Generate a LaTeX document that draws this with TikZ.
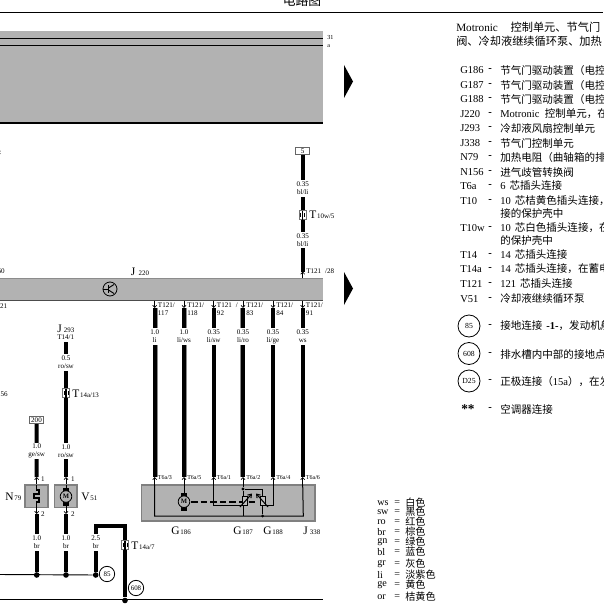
\documentclass[tikz,border=0pt]{standalone}
\usepackage{fontspec}
\setmainfont{Liberation Serif}
\newfontfamily\cjk{Noto Sans CJK SC}
\usetikzlibrary{arrows.meta,calc}
\definecolor{bandgray}{HTML}{B2B2B2}
\newcommand\biglab[2]{{\fontsize{8.6pt}{9pt}\selectfont #1}\kern0.6pt{\fontsize{5.2pt}{6pt}\selectfont #2}}
\tikzset{
  wire/.style={line width=3pt,black},
  stripe/.style={line width=0.9pt,black!45},
  thin wire/.style={line width=0.75pt,black},
  hair/.style={line width=0.7pt,black},
  tipline/.style={line width=0.5pt,black,-{Straight Barb[length=1.7pt,width=3pt]}},
  wlabel/.style={fill=white,inner sep=0pt,minimum height=12.5pt,minimum width=4pt,align=center,font=\fontsize{5.3pt}{6pt}\selectfont},
  small/.style={inner sep=0pt,font=\fontsize{5.3pt}{6pt}\selectfont,align=left},
  tiny/.style={inner sep=0pt,font=\fontsize{4.6pt}{6pt}\selectfont,anchor=west},
  big/.style={inner sep=0pt,anchor=base west},
  tagbox/.style={draw=black!60,fill=white,line width=0.6pt,inner sep=0pt,minimum width=10.5pt,minimum height=5.6pt,font=\fontsize{5.3pt}{6pt}\selectfont},
  groundc/.style={circle,draw=black,line width=0.6pt,fill=white,inner sep=0pt,minimum size=11.5pt,font=\fontsize{5.2pt}{6pt}\selectfont},
  keyc/.style={circle,draw=black,line width=0.6pt,fill=white,inner sep=0pt,minimum size=16.5pt,font=\fontsize{5.8pt}{6pt}\selectfont},
  dotn/.style={circle,fill=black,inner sep=0pt,minimum size=4.2pt},
  jdot/.style={circle,fill=black,inner sep=0pt,minimum size=2.3pt},
  grayblock/.style={fill=bandgray,draw=black!50,line width=0.9pt},
  listt/.style={inner sep=0pt,anchor=west,font=\fontsize{7.9pt}{9pt}\selectfont},
  legt/.style={inner sep=0pt,anchor=west,font=\fontsize{7.6pt}{9pt}\selectfont},
  connpic/.pic={
    \draw[draw=black!55,fill=white,line width=0.5pt] (-3.5,-4.5) rectangle (3.5,4.5);
    \draw[line width=1.1pt] (0,-4.5) -- (0,4.5);
    \draw[line width=0.4pt] (-2,-2) -- (-2,2) (2,-2) -- (2,2);
  },
  motorpic/.pic={
    \fill[black] (-3,-9) rectangle (3,-5);
    \fill[black] (-3,5.5) rectangle (3,9.5);
    \draw[fill=bandgray,line width=0.6pt] (0,0) circle (5.8);
    \node[inner sep=0pt,font=\fontsize{5pt}{6pt}\bfseries\selectfont] (-mm) at (0,0) {M};
  },
  potpic/.pic={
    \draw[fill=black!25,line width=0.6pt] (-2.5,-4.5) rectangle (2.5,4.5);
  },
}
\begin{document}
\begin{tikzpicture}[x=0.75pt,y=-0.75pt]
\useasboundingbox (0,0) rectangle (603,606);
\clip (0,0) rectangle (603,606);
\fill[white] (0,0) rectangle (603,606);

% top rule and title
\coordinate (ruleL) at (0,12.5); \coordinate (ruleR) at (603,12.5);
\draw[line width=0.8pt] (ruleL) -- (ruleR);
\node[inner sep=0pt,font=\fontsize{9.6pt}{10pt}\cjk\selectfont] (title) at (302,1) {电路图};

% upper gray band
\fill[bandgray] (0,31) rectangle (323,123);
\coordinate (u1L) at (0,38.5); \coordinate (u1R) at (323,38.5);
\coordinate (u2L) at (0,45.5); \coordinate (u2R) at (323,45.5);
\coordinate (u3L) at (0,123); \coordinate (u3R) at (323,123);
\draw[hair] (u1L) -- (u1R);
\draw[hair] (u2L) -- (u2R);
\draw[line width=0.8pt] (u3L) -- (u3R);
\node[tiny] (l31) at (327,38) {31};
\node[tiny] (la) at (327,46) {a};
\fill (344,65) -- (353,81.5) -- (344,98) -- cycle;
\fill (344,272) -- (353,288.5) -- (344,305) -- cycle;

% J220 band
\fill[bandgray] (0,278) rectangle (323,300.5);
\draw[black!45,line width=0.7pt] (0,278) -- (323,278);
\draw[black!70,line width=0.7pt] (0,300.5) -- (323,300.5);
\node[big] (j220) at (130.5,275) {\biglab{J}{\kern2pt 220}};
\node[circle,draw,line width=0.6pt,inner sep=0pt,minimum size=10.5pt] (star) at (110,289) {};
\draw[line width=0.5pt] (103,289) -- (108.5,289);
\draw[line width=1.3pt] (108.5,285) -- (108.5,293);
\draw[line width=0.7pt] (108.5,288) -- (114,284.5) (108.5,290) -- (114,293.5);

% fragments at left edge
\node[small,anchor=east] (f60) at (5,271) {/60};
\node[small,anchor=east] (f21) at (7.5,306.5) {/21};
\node[small,anchor=east] (f56) at (8,394) {56};
\node[small,anchor=east] (f1) at (1.5,153) {:};

% six lines from J220 to J338
\draw[grayblock] (141.7,485) rectangle (315,521);
\foreach \n/\x/\off/\ta/\tb/\sa/\sb/\pin in {
  1/154.7/2.4/{T121/}/117/1.0/li/3,
  2/184/2.4/{T121/}/118/1.0/{li/ws}/5,
  3/213.7/0/{T121\kern3pt/}/92/0.35/{li/sw}/1,
  4/243/-2.4/{T121/}/83/0.35/{li/ro}/2,
  5/273/0/{T121/}/84/0.35/{li/ge}/4,
  6/302.7/0/{T121/}/91/0.35/ws/6}{
  \coordinate (t\n) at (\x,300.5);
  \coordinate (p\n) at (\x,308);
  \coordinate (q\n) at (\x,477);
  \coordinate (b\n) at (\x,485);
  \draw[stripe] ($(p\n)+(\off,0)$) -- ($(q\n)+(\off,0)$);
  \draw[wire] (p\n) -- (q\n);
  \draw[tipline] (t\n) -- (p\n);
  \draw[tipline] (b\n) -- (\x,477);
  \node[wlabel] (w\n) at (\x,336.5) {\sa\\\sb};
  \node[small,anchor=north west] (tt\n) at (\x+3,302.5) {\ta\\[0.3pt]\tb};
  \node[tiny,anchor=west,font=\fontsize{4.5pt}{6pt}\selectfont] (ts\n) at (\x+3,478) {T6a/\pin};
}

% T121/28 branch with T10w/5
\node[tagbox] (box5) at (302.7,151) {5};
\coordinate (c28) at (302.7,271.5);
\coordinate (e28) at (302.7,278);
\draw[wire] (box5) -- (c28);
\draw[tipline] (e28) -- (c28);
\node[wlabel] (w7) at (302.7,188.5) {0.35\\bl/li};
\node[wlabel] (w8) at (302.7,240) {0.35\\bl/li};
\pic (cn1) at (302.7,215) {connpic};
\node[big] (t10w) at (309,218.5) {\biglab{T}{10w/5}};
\node[small,anchor=west] (t28) at (306,271) {T121\kern3pt/28};

% G186..J338 internals
\coordinate (j1) at (154.7,516);
\coordinate (j6) at (303.3,516);
\draw[thin wire] (b1) -- (j1) -- (j6) -- (b6);
\draw[thin wire] (b2) -- (184,494);
\coordinate (m3) at (213.7,505);
\coordinate (pa) at (245,505);
\draw[thin wire] (b3) -- (m3) -- (pa);
\coordinate (m5) at (273,505);
\coordinate (pb) at (265,505);
\draw[thin wire] (b5) -- (m5) -- (pb);
\node[jdot] (dA) at (243,489) {};
\node[jdot] (dB) at (262.7,516) {};
\draw[thin wire] (b4) -- (dA);
\draw[thin wire] (dA) -- (243,516);
\draw[thin wire] (dA) -- (262.7,489) -- (dB);
\draw[line width=0.9pt,dash pattern=on 5pt off 2.2pt] (191,502) -- (258,502);
\pic at (184,501.7) {motorpic};
\pic at (245,501) {potpic};
\pic at (262.5,501) {potpic};
\draw[line width=0.8pt,-{Straight Barb[length=2.4pt,width=3.4pt]}] (240,507) -- (252,493.5);
\draw[line width=0.8pt,-{Straight Barb[length=2.4pt,width=3.4pt]}] (268,507) -- (256,493.5);
\node[big] (g186) at (171,534) {\biglab{G}{186}};
\node[big] (g187) at (233,534) {\biglab{G}{187}};
\node[big] (g188) at (263,534) {\biglab{G}{188}};
\node[big] (j338) at (303,534) {\biglab{J}{\kern1pt 338}};

% V51 branch with J293
\node[big] (j293) at (57,332) {\biglab{J}{\kern1pt 293}};
\node[small,anchor=west] (t141) at (57,337.5) {T14/1};
\coordinate (v1) at (66,342);
\coordinate (v2) at (66,477);
\coordinate (v3) at (66,485);
\draw[wire] (v1) -- (v2);
\draw[tipline] (v3) -- (v2);
\node[wlabel] (w9) at (66,362.5) {0.5\\ro/sw};
\node[wlabel] (w10) at (66,451) {1.0\\ro/sw};
\pic at (66,393) {connpic};
\node[big] (t1413) at (72,397) {\biglab{T}{14a/13}};
\draw[grayblock] (54.7,485) rectangle (77,507.7);
\draw[thin wire] (v3) -- (66,488);
\draw[thin wire] (66,504) -- (66,508);
\pic at (66,496.5) {motorpic};
\node[big] (v51) at (81,500) {\biglab{V}{51}};
\node[small,anchor=center] (p1b) at (73,479) {1};
\node[small,anchor=center] (p2b) at (73,514) {2};
\coordinate (v4) at (66,507.7);
\coordinate (v5) at (66,514);
\node[dotn] (dv) at (66,575) {};
\draw[tipline] (v4) -- (v5);
\draw[wire] (v5) -- (dv);
\node[wlabel] (w11) at (66,542.5) {1.0\\br};

% N79 branch
\node[tagbox] (box200) at (36.5,420) {200};
\coordinate (n2) at (36.7,477);
\coordinate (n3) at (36.7,485);
\draw[wire] (box200) -- (n2);
\draw[tipline] (n3) -- (n2);
\node[wlabel] (w12) at (36.7,451) {1.0\\ge/sw};
\draw[grayblock] (25,485) rectangle (48,507.7);
\draw[line width=0.8pt] (n3) -- (36.7,490) -- (39,490) -- (39,494) -- (34,494) -- (34,498) -- (39,498) -- (39,502) -- (36.7,502) -- (36.7,507.7);
\node[big] (n79) at (5,500) {\biglab{N}{79}};
\node[small,anchor=center] (p1a) at (43,479) {1};
\node[small,anchor=center] (p2a) at (43,514) {2};
\coordinate (n4) at (36.7,507.7);
\coordinate (n5) at (36.7,514);
\node[dotn] (dn) at (36.7,575) {};
\draw[tipline] (n4) -- (n5);
\draw[wire] (n5) -- (dn);
\node[wlabel] (w13) at (36.7,542.5) {1.0\\br};

% ground wires
\coordinate (g0) at (0,574.5);
\node[dotn] (d85) at (95.7,575) {};
\draw[hair] (g0) -- (d85);
\coordinate (c1) at (95.7,526);
\coordinate (c2) at (125,526);
\node[dotn] (d608) at (125,600.5) {};
\draw[wire,line join=miter] (d85) -- (c1) -- (c2) -- (d608);
\node[wlabel] (w14) at (95.7,542.5) {2.5\\br};
\pic at (125,545) {connpic};
\node[big] (t147) at (131,549) {\biglab{T}{14a/7}};
\node[groundc] (k85) at (107,574) {85};
\node[groundc] (k608) at (136,588) {608};
\coordinate (bL) at (0,599.5); \coordinate (bR) at (323,599.5);
\draw[hair] (bL) -- (bR);

% colour legend
\foreach \y/\a/\b in {502.7/ws/白色,512/sw/黑色,522/ro/红色,531.7/br/棕色,542/gn/绿色,552/bl/蓝色,564/gr/灰色,575/li/淡紫色,585/ge/黄色,596.7/or/桔黄色}{
  \node[legt] (lc\a) at (377,\y) {\a};
  \node[legt] (le\a) at (394,\y) {=};
  \node[legt] (ln\a) at (405,\y) {\cjk\b};
}

% component key
\node[inner sep=0pt,anchor=west,font=\fontsize{8.4pt}{9pt}\selectfont] (h1) at (456,27) {Motronic\hspace{9.5pt}{\cjk 控制单元、节气门}};
\node[inner sep=0pt,anchor=west,font=\fontsize{8.4pt}{9pt}\selectfont] (h2) at (456,41) {\cjk 阀、冷却液继续循环泵、加热};
\foreach \i/\y/\k/\t in {
  a/70.5/G186/{\cjk 节气门驱动装置（电控},
  b/85/G187/{\cjk 节气门驱动装置（电控},
  c/99.5/G188/{\cjk 节气门驱动装置（电控},
  d/114/J220/{Motronic\hspace{4pt}{\cjk 控制单元，在}},
  e/128.5/J293/{\cjk 冷却液风扇控制单元},
  f/143/J338/{\cjk 节气门控制单元},
  g/157/N79/{\cjk 加热电阻（曲轴箱的排},
  h/172/N156/{\cjk 进气歧管转换阀},
  i/186/T6a/{6\hspace{3pt}{\cjk 芯插头连接}},
  j/200.7/T10/{10\hspace{3pt}{\cjk 芯桔黄色插头连接，}},
  k/228/T10w/{10\hspace{3pt}{\cjk 芯白色插头连接，在}},
  l/255/T14/{14\hspace{3pt}{\cjk 芯插头连接}},
  m/269/T14a/{14\hspace{3pt}{\cjk 芯插头连接，在蓄电}},
  n/284/T121/{121\hspace{3pt}{\cjk 芯插头连接}},
  o/299/V51/{\cjk 冷却液继续循环泵}}{
  \node[listt] (key\i) at (460,\y) {\k};
  \node[listt,font=\fontsize{7.9pt}{9pt}\bfseries\selectfont] (dash\i) at (488,\y) {-};
  \node[listt] (txt\i) at (500,\y) {\t};
}
\node[listt] (txtj2) at (500,214) {\cjk 接的保护壳中};
\node[listt] (txtk2) at (500,241) {\cjk 的保护壳中};
\node[keyc] (c85) at (469,326) {85};
\node[keyc] (c608) at (469,353.5) {608};
\node[keyc] (cd25) at (469,381) {D25};
\foreach \i/\y/\t in {
  p/326/{{\cjk 接地连接}\hspace{3pt}{\bfseries -1-}{\cjk ，发动机舱}},
  q/354/{\cjk 排水槽内中部的接地点},
  r/381.5/{{\cjk 正极连接（}15a{\cjk ），在发}},
  s/409/{\cjk 空调器连接}}{
  \node[listt,font=\fontsize{7.9pt}{9pt}\bfseries\selectfont] (dash\i) at (488,\y) {-};
  \node[listt] (txt\i) at (500,\y) {\t};
}
\node[listt,font=\fontsize{10pt}{10pt}\bfseries\selectfont] (stars) at (461,409) {**};
\end{tikzpicture}
\end{document}
